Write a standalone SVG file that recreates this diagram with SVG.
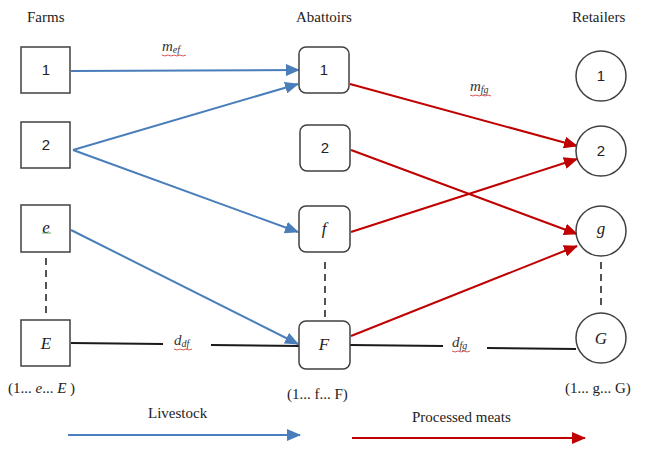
<svg xmlns="http://www.w3.org/2000/svg" width="658" height="450" viewBox="0 0 658 450">
<defs>
<marker id="ab" markerUnits="userSpaceOnUse" markerWidth="14" markerHeight="12" refX="13" refY="6" orient="auto"><path d="M0,0 L14,6 L0,12 Z" fill="#4a7ebb"/></marker>
<marker id="ar" markerUnits="userSpaceOnUse" markerWidth="14" markerHeight="12" refX="13" refY="6" orient="auto"><path d="M0,0 L14,6 L0,12 Z" fill="#c00000"/></marker>
<style>
.box{fill:#fff;stroke:#404040;stroke-width:1.5}
.head{font-family:"Liberation Serif",serif;font-size:15px;fill:#222}
.num{font-family:"Liberation Sans",Arial,sans-serif;font-size:15px;fill:#222;text-anchor:middle}
.it{font-family:"Liberation Serif",serif;font-style:italic;font-size:17px;fill:#222;text-anchor:middle}
.lbl{font-family:"Liberation Serif",serif;font-style:italic;font-size:15px;fill:#333}
.sub{font-size:10px}
.blue{stroke:#4a7ebb;stroke-width:2;fill:none;marker-end:url(#ab)}
.red{stroke:#c00000;stroke-width:2;fill:none;marker-end:url(#ar)}
.blk{stroke:#1a1a1a;stroke-width:2;fill:none}
.dash{stroke:#1a1a1a;stroke-width:1.5;stroke-dasharray:7,5;fill:none}
.sq{stroke:#d03030;stroke-width:0.8;fill:none}
</style>
</defs>
<text class="head" x="27" y="22">Farms</text>
<text class="head" x="296" y="22">Abattoirs</text>
<text class="head" x="572" y="22">Retailers</text>

<g id="connectors">
<line class="blue" x1="71" y1="71" x2="299" y2="70"/>
<line class="blue" x1="73" y1="150" x2="298" y2="84"/>
<line class="blue" x1="73" y1="150" x2="298" y2="232"/>
<line class="blue" x1="71" y1="230" x2="298" y2="344"/>
<line class="red" x1="350" y1="84" x2="577" y2="146"/>
<line class="red" x1="351" y1="150" x2="577" y2="234"/>
<line class="red" x1="351" y1="232" x2="577" y2="159"/>
<line class="red" x1="351" y1="336" x2="577" y2="246"/>
<line class="blk" x1="71" y1="343" x2="163" y2="344"/>
<line class="blk" x1="211" y1="345" x2="300" y2="346"/>
<line class="blk" x1="350" y1="345" x2="443" y2="346"/>
<line class="blk" x1="487" y1="348" x2="576" y2="349"/>
<line class="dash" x1="46" y1="258" x2="46" y2="316"/>
<line class="dash" x1="325" y1="262" x2="325" y2="318"/>
<line class="dash" x1="601" y1="262" x2="601" y2="310"/>
<line class="blue" x1="68" y1="435" x2="300" y2="435"/>
<line class="red" x1="352" y1="438" x2="585" y2="438"/>
</g>

<g id="farm1"><rect class="box" x="21" y="47" width="49" height="46"/><text class="num" x="46" y="75">1</text></g>
<g id="farm2"><rect class="box" x="21" y="122" width="49" height="46"/><text class="num" x="46" y="150">2</text></g>
<g id="farme"><rect class="box" x="21" y="205" width="49" height="47"/><text class="it" x="46" y="233">e</text><line x1="42" y1="233" x2="51" y2="233" stroke="#3a9a3a" stroke-width="0.8"/></g>
<g id="farmE"><rect class="box" x="21" y="320" width="49" height="46"/><text class="it" x="46" y="349">E</text></g>

<g id="ab1"><rect class="box" x="299" y="47" width="50" height="46" rx="7"/><text class="num" x="324" y="75">1</text></g>
<g id="ab2"><rect class="box" x="300" y="125" width="50" height="46" rx="7"/><text class="num" x="325" y="153">2</text></g>
<g id="abf"><rect class="box" x="299" y="206" width="51" height="46" rx="7"/><text class="it" x="324" y="234">f</text></g>
<g id="abF"><rect class="box" x="299" y="321" width="51" height="48" rx="7"/><text class="it" x="324" y="350">F</text></g>

<g id="ret1"><circle class="box" cx="601" cy="76" r="25"/><text class="num" x="601" y="81">1</text></g>
<g id="ret2"><circle class="box" cx="601" cy="151" r="25"/><text class="num" x="601" y="156">2</text></g>
<g id="retg"><circle class="box" cx="601" cy="231" r="25"/><text class="it" x="601" y="234">g</text></g>
<g id="retG"><circle class="box" cx="601" cy="338" r="25"/><text class="it" x="601" y="344">G</text></g>

<text class="lbl" x="162" y="51">m<tspan class="sub" dy="2">ef</tspan></text>
<path class="sq" d="M162,55 l3,1 l3,-1 l3,1 l3,-1 l3,1 l3,-1 l3,1 l3,-1"/>
<text class="lbl" x="470" y="91">m<tspan class="sub" dy="2">fg</tspan></text>
<path class="sq" d="M470,95 l3,1 l3,-1 l3,1 l3,-1 l3,1 l3,-1 l3,1"/>
<text class="lbl" x="174" y="345">d<tspan class="sub" dy="2">df</tspan></text>
<path class="sq" d="M174,349 l3,1 l3,-1 l3,1 l3,-1 l3,1 l3,-1"/>
<text class="lbl" x="452" y="347">d<tspan class="sub" dy="2">fg</tspan></text>
<path class="sq" d="M452,351 l3,1 l3,-1 l3,1 l3,-1 l3,1 l3,-1"/>

<text class="head" x="8" y="393">(1... <tspan font-style="italic">e</tspan>... <tspan font-style="italic">E</tspan> )</text>
<text class="head" x="287" y="399">(1... f... F)</text>
<text class="head" x="565" y="393">(1... g... G)</text>
<text class="head" x="148" y="418">Livestock</text>
<text class="head" x="412" y="422">Processed meats</text>
</svg>
